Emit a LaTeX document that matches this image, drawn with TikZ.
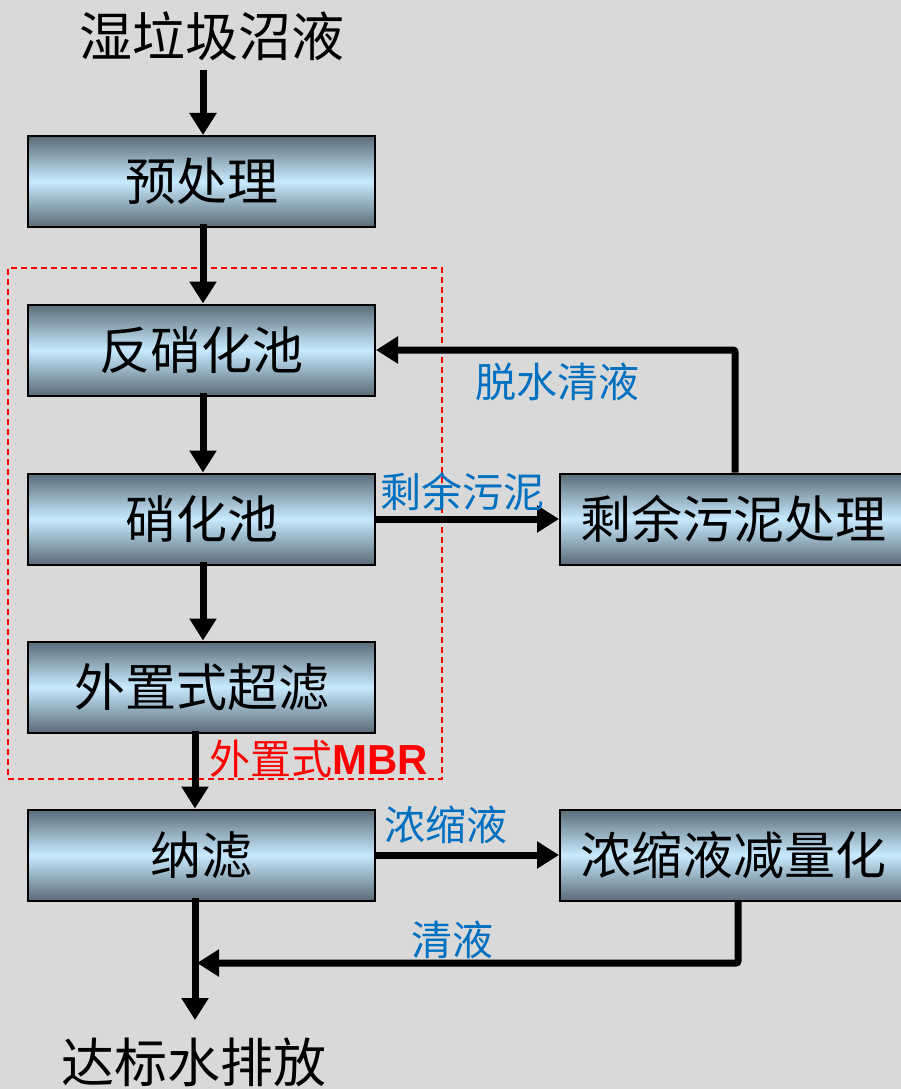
\documentclass[tikz,border=0pt]{standalone}
\usepackage{fontspec}
\newfontfamily\cjk{Noto Sans CJK SC}
\newfontfamily\lat{Liberation Sans}
\usetikzlibrary{arrows.meta}
\definecolor{bg}{HTML}{D9D9D9}
\definecolor{boxdark}{HTML}{5A6C76}
\definecolor{boxlight}{HTML}{C8EAFF}
\definecolor{lblue}{HTML}{0070C0}
\tikzset{
  procbox/.style={draw=black, line width=2pt, top color=boxdark, bottom color=boxdark, middle color=boxlight,
    minimum height=91pt, inner sep=0pt, font=\cjk\fontsize{51}{55}\selectfont},
  flow/.style={line width=7pt, -{Triangle[length=22pt,width=26pt]}},
  bluelbl/.style={text=lblue, font=\cjk\fontsize{41}{45}\selectfont, inner sep=0pt},
  endtext/.style={font=\cjk\fontsize{53}{57}\selectfont, inner sep=0pt}
}
\begin{document}
\begin{tikzpicture}[x=1pt,y=-1pt]
\useasboundingbox (0,0) rectangle (901,1089);
\fill[bg] (0,0) rectangle (901,1089);
\clip (0,0) rectangle (901,1089);
% texts
\node[endtext] (src) at (212,36) {湿垃圾沼液};
\node[endtext] (dst) at (194,1062) {达标水排放};
% boxes
\node[procbox, minimum width=347pt] (pre) at (201.5,181.5) {预处理};
\node[procbox, minimum width=347pt] (dn) at (201.5,350) {反硝化池};
\node[procbox, minimum width=347pt] (ni) at (201.5,519) {硝化池};
\node[procbox, minimum width=347pt] (uf) at (201.5,687) {外置式超滤};
\node[procbox, minimum width=347pt] (nf) at (201.5,855) {纳滤};
\node[procbox, minimum width=346pt] (sl) at (733,519) {剩余污泥处理};
\node[procbox, minimum width=346pt] (cr) at (733,855) {浓缩液减量化};
% MBR frame
\node[draw=red, line width=1.4pt, dash pattern=on 6pt off 4pt, minimum width=434pt, minimum height=511pt, inner sep=0pt] (mbr) at (225,523.5) {};
\node[text=red, inner sep=0pt, anchor=west] (mbrl) at (209,759) {\cjk\fontsize{41}{45}\selectfont 外置式\lat\bfseries\fontsize{42}{46}\selectfont MBR};
% arrows main chain
\coordinate (s0) at (203,70);
\draw[flow] (s0) -- (pre.north -| s0);
\draw[flow] ([yshift=4pt]pre.south -| s0) -- (dn.north -| s0);
\draw[flow] ([yshift=4pt]dn.south -| s0) -- (ni.north -| s0);
\draw[flow] ([yshift=4pt]ni.south -| s0) -- (uf.north -| s0);
\coordinate (s1) at (195,0);
\draw[flow] ([yshift=3pt]uf.south -| s1) -- (nf.north -| s1);
\coordinate (outp) at (195,1020);
\draw[flow] ([yshift=4pt]nf.south -| s1) -- (outp);
% side branches
\draw[flow] (ni.east) -- (sl.west);
\coordinate (ret) at (735,0);
\draw[flow, rounded corners=2pt] (sl.north -| ret) |- (dn.east);
\draw[flow] (nf.east) -- (cr.west);
\coordinate (cj) at (197,963);
\coordinate (cx) at (738,0);
\draw[flow, rounded corners=2pt] (cr.south -| cx) |- (cj);
% labels
\node[bluelbl] (l1) at (557,382) {脱水清液};
\node[bluelbl] (l2) at (462,492) {剩余污泥};
\node[bluelbl] (l3) at (446,825) {浓缩液};
\node[bluelbl] (l4) at (452,940) {清液};
\end{tikzpicture}
\end{document}
